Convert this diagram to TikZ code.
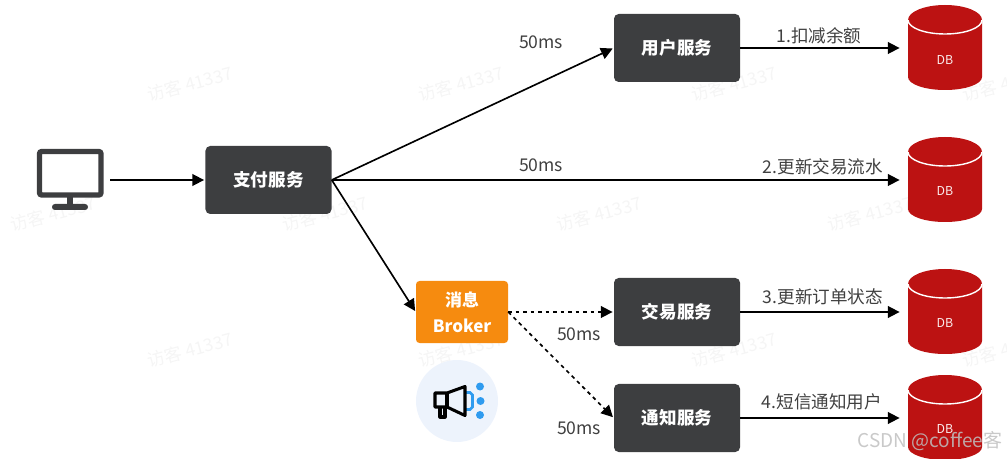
\documentclass[tikz,border=0pt]{standalone}
\usepackage{fontspec}
\setmainfont{Noto Sans CJK SC}
\usetikzlibrary{arrows.meta}
\definecolor{darkbox}{HTML}{3D3E40}
\definecolor{brokerorange}{HTML}{F68B0F}
\definecolor{dbred}{HTML}{BC1212}
\definecolor{hornblue}{HTML}{2F9BEF}
\definecolor{circleblue}{HTML}{EDF3FC}
\tikzset{
  service/.style={fill=darkbox, rounded corners=4pt, text=white, font=\fontsize{15}{18}\selectfont\bfseries,
    minimum width=3.78cm, minimum height=2.04cm, inner sep=0pt},
  flow/.style={-{Triangle[length=10pt,width=10pt]}, line width=1.4pt, black, shorten >=1pt},
  dotflow/.style={flow, dash pattern=on 3.2pt off 3.2pt},
  lbl/.style={font=\fontsize{15}{18}\selectfont, text=black!75, inner sep=0pt},
  mark41337/.style={rotate=15, font=\fontsize{15}{18}\selectfont, text=black!4, inner sep=0pt}
}
\newcommand{\dbcyl}[3]{
    \fill[dbred] (908,#2-28) -- (908,#2+29) arc[x radius=37, y radius=13, start angle=180, end angle=0]
      -- (982,#2-28) arc[x radius=37, y radius=15, start angle=0, end angle=-180] -- cycle;
    \draw[white, line width=1.2pt] (908,#2-28) arc[x radius=37, y radius=14, start angle=180, end angle=0];
    \node[minimum width=2.64cm, inner sep=0pt, text=white!92!dbred, font=\fontsize{10.5}{12}\selectfont] (#1) at (945,#3) {DB};
}
\begin{document}
\begin{tikzpicture}[x=0.03cm, y=-0.03cm]
  \useasboundingbox (0,0) rectangle (1007,459);

  % faint marks behind everything
  \foreach \mx/\my [count=\mi] in {190/84, 461/84, 734/84, 1005/84, 53/214, 325/214, 599/214, 870/214, 190/350, 461/350, 734/350, 1005/350}
    \node[mark41337] (markA\mi) at (\mx,\my) {访客 41337};

  \fill[circleblue] (457,401) circle (41);

  % monitor
  \draw[darkbox, line width=4.6pt, rounded corners=2pt] (39.5,151.5) rectangle (101,195);
  \fill[darkbox] (66.5,197) rectangle (73,206);
  \fill[darkbox, rounded corners=2.5pt] (52,204) rectangle (88,210);
  \coordinate (screen) at (110,180);

  \node[service] (pay) at (268.5,180) {支付服务};
  \node[service] (user) at (677,48) {用户服务};
  \node[service] (trade) at (677,312) {交易服务};
  \node[service] (notify) at (677,418) {通知服务};
  \node[fill=brokerorange, rounded corners=3pt, text=white, minimum width=2.76cm, minimum height=1.86cm, inner sep=0pt,
    align=center, font=\fontsize{14.5}{22}\selectfont\bfseries] (broker) at (462,312) {消息\\Broker};

  \dbcyl{dbA}{48}{60}
  \dbcyl{dbB}{180}{191}
  \dbcyl{dbC}{312}{323}
  \dbcyl{dbD}{418}{429}

  \draw[flow] (screen) -- (pay.west);
  \draw[flow] (pay.east) -- (user.west);
  \draw[flow] (pay.east) -- (pay.east -| dbB.west);
  \draw[flow] (pay.east) -- (broker.west);
  \draw[dotflow] (broker.east) -- (trade.west);
  \draw[dotflow] (broker.east) -- (notify.west);
  \draw[flow] (user.east) -- (user.east -| dbA.west);
  \draw[flow] (trade.east) -- (trade.east -| dbC.west);
  \draw[flow] (notify.east) -- (notify.east -| dbD.west);

  \node[lbl] (timeA) at (541,42) {50ms};
  \node[lbl] (timeB) at (541,165) {50ms};
  \node[lbl] (timeC) at (579,334) {50ms};
  \node[lbl] (timeD) at (579,428) {50ms};
  \node[lbl] (stepA) at (819,36) {1.扣减余额};
  \node[lbl] (stepB) at (823,167) {2.更新交易流水};
  \node[lbl] (stepC) at (823,297) {3.更新订单状态};
  \node[lbl] (stepD) at (822,402) {4.短信通知用户};

  % megaphone
  \draw[hornblue, line width=2.4pt] (465,392.5) -- (470,392.5) -- (472.5,395) -- (472.5,407) -- (470,409.5) -- (465,409.5);
  \fill[hornblue] (480,386.5) circle (4) (480.5,401) circle (4) (480,415) circle (4);
  \draw[black, line width=2.6pt, line join=round, fill=circleblue]
    (447,393) -- (465,386.5) -- (465,415.5) -- (447,407) -- (435,407) -- (435,393) -- cycle;
  \draw[black, line width=2.6pt] (447,393) -- (447,407);
  \draw[black, line width=2.6pt, line join=round] (440,407) -- (440,417) -- (445,417) -- (445,407);

  \node[inner sep=0pt, text=black!25, opacity=0.85, font=\fontsize{16.2}{18}\selectfont] (csdn) at (930,441) {CSDN @coffee客};
\end{tikzpicture}
\end{document}
